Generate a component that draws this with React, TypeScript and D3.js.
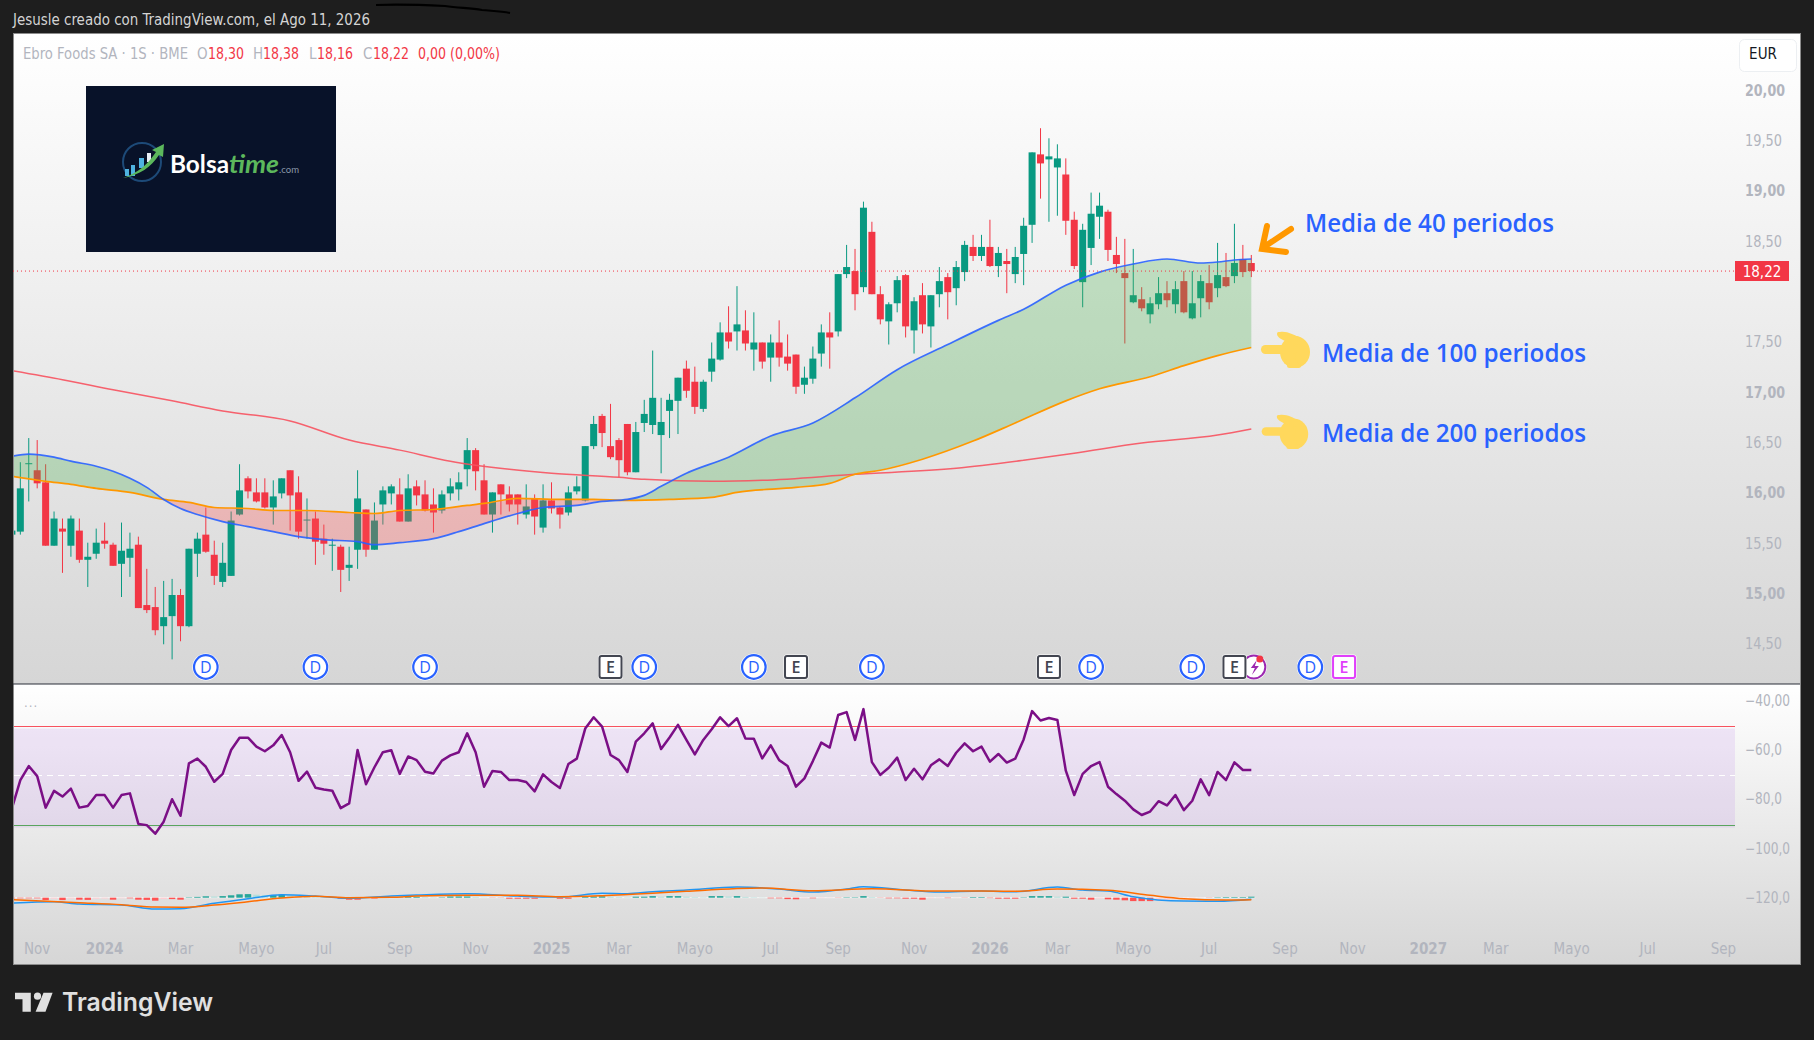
import React from "react";
import * as d3 from "d3";

const opens = [15.60,15.63,16.30,16.24,16.12,15.49,15.66,15.49,15.64,15.35,15.41,15.54,15.50,15.31,15.37,15.50,14.90,14.88,14.69,14.79,15.00,14.69,15.41,15.60,15.40,15.13,15.19,15.80,16.16,16.02,16.02,15.87,16.01,16.24,16.02,15.74,15.76,15.56,15.49,15.48,15.27,15.45,15.85,15.45,15.90,16.01,16.00,15.73,16.08,16.00,15.90,15.84,16.01,16.05,16.25,16.44,16.14,15.80,16.10,16.00,16.00,15.80,15.96,15.67,15.94,15.87,15.82,16.03,15.94,16.48,16.78,16.48,16.54,16.70,16.22,16.71,16.69,16.59,16.83,16.93,17.25,17.12,16.85,17.22,17.34,17.61,17.62,17.63,17.44,17.51,17.36,17.51,17.37,17.39,17.09,17.15,17.40,17.61,17.62,18.19,18.22,18.06,18.61,17.99,17.72,17.90,18.18,17.63,17.98,17.67,17.99,18.16,18.05,18.21,18.46,18.37,18.46,18.27,18.32,18.19,18.39,18.68,19.38,19.33,19.25,19.18,18.73,18.11,18.45,18.76,18.81,18.38,18.20,17.91,17.94,17.79,17.89,18.00,17.89,18.12,17.75,17.95,18.10,18.05,18.16,18.17,18.34,18.30];
const highs = [15.66,16.32,16.56,16.54,16.30,15.83,15.76,15.79,15.76,15.52,15.66,15.72,15.52,15.72,15.62,15.58,15.26,15.08,15.14,15.16,15.06,15.46,15.62,15.87,15.54,15.52,15.83,16.30,16.18,16.16,16.16,16.14,16.16,16.24,16.18,15.96,15.83,15.70,15.56,15.50,15.48,16.24,15.85,15.92,16.08,16.10,16.16,16.20,16.14,16.14,16.06,16.04,16.16,16.22,16.56,16.46,16.30,16.02,16.10,16.08,16.00,16.10,16.00,16.10,16.12,15.88,16.08,16.18,16.48,16.78,16.80,16.90,16.56,16.70,16.72,16.94,17.43,16.96,17.00,17.16,17.33,17.27,17.14,17.51,17.71,17.87,18.07,17.83,17.81,17.51,17.59,17.73,17.59,17.39,17.27,17.47,17.69,17.81,18.19,18.48,18.44,18.91,18.71,18.07,17.91,18.17,18.19,17.96,18.10,17.98,18.26,18.20,18.32,18.52,18.58,18.58,18.73,18.46,18.44,18.46,18.75,19.40,19.64,19.54,19.48,19.34,18.81,18.69,19.00,19.00,18.83,18.56,18.54,18.44,18.06,17.96,18.16,18.12,18.12,18.22,18.22,18.18,18.28,18.50,18.40,18.69,18.48,18.38];
const lows = [15.58,15.60,15.93,16.06,15.49,15.49,15.22,15.38,15.32,15.08,15.36,15.46,15.29,14.98,15.18,14.87,14.82,14.60,14.51,14.36,14.54,14.68,15.18,15.42,15.10,15.08,15.19,15.79,15.96,15.92,15.86,15.70,15.96,15.64,15.56,15.56,15.30,15.40,15.24,15.03,15.14,15.26,15.38,15.45,15.70,15.90,15.73,15.73,15.89,15.83,15.62,15.81,15.94,15.94,16.08,16.04,15.80,15.62,15.80,15.83,15.70,15.76,15.60,15.62,15.81,15.66,15.79,16.00,15.93,16.45,16.47,16.35,16.17,16.19,16.22,16.62,16.60,16.21,16.56,16.60,16.96,16.80,16.82,17.12,17.33,17.45,17.43,17.43,17.23,17.25,17.12,17.27,17.23,17.00,17.00,17.10,17.27,17.25,17.57,18.15,17.83,18.01,17.99,17.69,17.49,17.81,17.56,17.40,17.60,17.46,17.86,17.74,17.88,18.12,18.32,18.32,18.26,18.16,18.00,18.10,18.08,18.50,18.94,18.71,18.77,18.58,18.24,17.86,18.28,18.54,18.32,18.20,17.50,17.90,17.82,17.70,17.84,17.86,17.80,17.80,17.74,17.76,17.84,17.96,18.06,18.10,18.16,18.16];
const closes = [15.64,16.06,16.31,16.11,15.49,15.76,15.63,15.76,15.35,15.38,15.52,15.51,15.29,15.44,15.46,14.87,14.85,14.65,14.78,15.00,14.69,15.46,15.56,15.43,15.19,15.32,15.74,16.04,16.03,15.93,15.87,15.98,16.16,15.99,15.63,15.75,15.53,15.51,15.50,15.25,15.30,15.96,15.45,15.74,16.04,16.08,15.73,16.06,15.99,15.84,15.82,16.00,16.08,16.12,16.44,16.23,15.80,16.02,16.00,15.90,15.90,15.88,15.78,15.94,15.86,15.80,16.02,16.08,16.48,16.70,16.61,16.37,16.34,16.22,16.62,16.80,16.96,16.72,16.94,17.16,17.03,16.87,17.12,17.35,17.61,17.52,17.69,17.50,17.51,17.32,17.51,17.36,17.30,17.07,17.16,17.35,17.61,17.56,18.19,18.26,17.99,18.85,17.99,17.74,17.89,18.13,17.67,17.92,17.69,17.98,18.12,18.01,18.26,18.48,18.37,18.46,18.27,18.40,18.29,18.36,18.67,19.40,19.29,19.36,19.34,18.72,18.27,18.63,18.79,18.87,18.43,18.29,18.15,17.98,17.85,17.90,18.00,17.93,18.04,17.81,17.90,18.12,17.91,18.18,18.07,18.30,18.21,18.22];

const ma40Idx = [0,2,5,7,10,12,14,16,18,20,22,25,28,31,34,37,41,43,46,50,53,56,60,63,67,70,73,75,77,80,85,90,95,100,105,111,117,120,125,129,133,137,141,143,145,147];
const ma40 = [16.38,16.40,16.37,16.33,16.28,16.23,16.16,16.07,15.95,15.86,15.80,15.73,15.68,15.63,15.58,15.55,15.53,15.50,15.52,15.56,15.63,15.71,15.81,15.87,15.89,15.93,15.95,15.99,16.08,16.21,16.37,16.58,16.71,16.96,17.24,17.49,17.73,17.84,18.08,18.21,18.29,18.34,18.30,18.31,18.33,18.34];
const ma100Idx = [0,4,7,10,14,18,21,24,28,31,35,40,43,46,50,54,56,60,65,69,73,78,83,86,93,97,100,103,108,114,119,125,129,135,139,143,147];
const ma100 = [16.18,16.13,16.10,16.06,16.02,15.95,15.92,15.87,15.86,15.84,15.84,15.82,15.81,15.84,15.85,15.89,15.91,15.96,15.95,15.95,15.94,15.95,15.97,16.02,16.07,16.11,16.20,16.24,16.35,16.53,16.71,16.93,17.05,17.17,17.28,17.38,17.46];
const ma200Idx = [0,6,12,19,25,33,40,46,52,59,64,72,75,83,89,100,112,120,126,134,143,147];
const ma200 = [17.23,17.14,17.04,16.93,16.83,16.73,16.54,16.44,16.33,16.25,16.21,16.17,16.15,16.13,16.14,16.20,16.26,16.34,16.41,16.51,16.59,16.65];

const rsi = [-83.2,-71.7,-66.0,-70.1,-82.9,-76.1,-78.4,-75.2,-82.9,-82.2,-77.8,-77.8,-82.9,-77.8,-77.1,-89.5,-90.0,-93.5,-88.6,-79.5,-86.2,-64.9,-63.0,-66.3,-72.4,-69.2,-59.5,-54.5,-54.5,-58.1,-60.0,-57.6,-53.4,-60.4,-72.0,-68.3,-74.8,-75.5,-76.0,-83.1,-81.2,-59.5,-73.4,-66.5,-60.4,-59.6,-69.2,-62.1,-63.6,-68.3,-69.0,-63.8,-61.7,-60.4,-52.7,-60.4,-74.4,-68.0,-68.4,-71.7,-71.7,-72.5,-76.3,-69.4,-72.5,-74.9,-65.2,-63.0,-50.8,-46.2,-50.0,-61.5,-63.6,-68.4,-56.1,-52.7,-48.7,-59.1,-54.4,-49.3,-55.4,-61.3,-55.4,-51.1,-46.2,-49.8,-46.6,-54.8,-54.9,-62.9,-57.6,-63.6,-66.0,-74.4,-71.0,-64.0,-56.5,-58.5,-45.3,-44.1,-55.4,-42.9,-64.4,-69.6,-66.7,-62.6,-71.7,-67.1,-71.4,-65.7,-63.3,-66.0,-60.6,-56.8,-60.0,-58.1,-64.2,-61.1,-64.6,-63.0,-55.2,-43.7,-47.5,-46.5,-47.3,-67.9,-77.8,-69.2,-66.0,-64.4,-74.4,-77.4,-80.1,-83.6,-85.9,-84.5,-80.3,-82.0,-77.8,-83.9,-80.1,-71.4,-77.8,-68.4,-71.7,-64.5,-67.6,-67.6];

const macdIdx = [0,5,8,13,17,20,24,28,32,36,40,45,48,54,60,65,70,73,76,80,86,91,95,99,101,106,110,115,119,124,127,130,133,139,143,147];
const macd = [-0.27,-0.20,-0.32,-0.37,-0.57,-0.55,-0.28,-0.05,0.15,0.08,-0.03,0.08,0.13,0.20,0.08,0.03,0.22,0.20,0.30,0.38,0.53,0.43,0.28,0.43,0.55,0.38,0.28,0.33,0.30,0.53,0.38,0.33,0.05,-0.17,-0.18,-0.08];
const signalIdx = [0,8,13,17,20,24,28,32,36,40,45,48,54,60,65,70,76,80,89,95,102,110,115,119,124,130,135,139,144,147];
const signal = [-0.10,-0.25,-0.35,-0.47,-0.48,-0.37,-0.20,-0.02,0.07,0,0.02,0.08,0.12,0.12,0.05,0.10,0.22,0.32,0.48,0.35,0.45,0.33,0.33,0.32,0.43,0.37,0.12,-0.05,-0.12,-0.10];
const hist = [-0.03,-0.03,-0.03,-0.03,-0.12,-0.05,-0.12,-0.05,-0.10,-0.11,-0.05,-0.04,-0.10,-0.03,-0.03,-0.10,-0.11,-0.15,-0.07,-0.07,-0.10,0.02,0.04,0.07,0.06,0.08,0.12,0.17,0.18,0.15,0.13,0.13,0.15,0.12,0.08,0.05,0.03,0.02,-0.01,-0.05,-0.10,-0.10,-0.02,-0.04,-0.01,0.01,0.02,0.05,0.05,0.03,0.02,0.02,0.06,0.06,0.06,0.03,0.01,-0.01,-0.01,-0.05,-0.05,-0.05,-0.05,-0.02,-0.01,-0.05,-0.05,-0.01,0.04,0.06,0.07,0.05,0.03,0.02,0.05,0.05,0.08,0.05,0.08,0.08,0.05,0.03,0.02,0.08,0.08,0.06,0.08,0.04,0.02,0.01,-0.03,-0.03,-0.07,-0.08,-0.03,-0.03,-0.02,-0.01,-0.01,0.02,0.02,0.08,0.03,-0.01,-0.03,-0.03,-0.05,-0.05,-0.10,-0.03,-0.02,-0.02,-0.01,-0.01,0.03,0.03,-0.02,-0.05,-0.05,-0.05,0.02,0.08,0.08,0.08,0.05,0.05,-0.05,-0.05,-0.10,-0.04,-0.08,-0.10,-0.13,-0.17,-0.17,-0.17,-0.12,-0.10,-0.07,-0.05,-0.03,-0.01,-0.01,0.02,0.03,0.03,0.03,0.05];

const priceTicks = [20,19.5,19,18.5,17.5,17,16.5,16,15.5,15,14.5];
const lowerTicks = ["−40,00","−60,0","−80,0","−100,0","−120,0"];
const lowerTickValues = [-40,-60,-80,-100,-120];
const lowerTickWidths = [45,37,37,45,45];
const timeLabels = ["Nov","2024","Mar","Mayo","Jul","Sep","Nov","2025","Mar","Mayo","Jul","Sep","Nov","2026","Mar","Mayo","Jul","Sep","Nov","2027","Mar","Mayo","Jul","Sep"];
const timeIdx = [3,11,20,29,37,46,55,64,72,81,90,98,107,116,124,133,142,151,159,168,176,185,194,203];
const dividendIdx = [23,36,49,75,88,102,128,140,154];
const earningsIdx = [71,93,123,145];
const futureEarningsIdx = [158];
const splitIdx = 147.3;
const lastPrice = 18.22;
const legendLabels = ["O","H","L","C"];
const legendValues = ["18,30","18,38","18,16","18,22"];
const legendLabelX = [197,253,309,363];
const legendValueX = [208,263,317,373];

const FONT = "'DejaVu Sans Condensed','DejaVu Sans',sans-serif";
const UI = "'Open Sans','Noto Sans',sans-serif";
const W = 1814, H = 1040;
const L = 13, R = 1800, T = 34, SEP = 684, B = 964, AX = 1735;
const UP = "#089981", DN = "#f23645", AXC = "#b2b5be";

const x = d3.scaleLinear().domain([0, 147]).range([11.9, 1251.3]);
const y = d3.scaleLinear().domain([20, 14.5]).range([92, 645.3]);
const yL = d3.scaleLinear().domain([-40, -120]).range([702, 899]);
const yM = d3.scaleLinear().domain([-1, 1]).range([917.7, 877.7]);

const fm = (v: number) => d3.format(".2f")(v).replace(".", ",");
const lineFor = (xs: number[], ys: number[], sc: d3.ScaleLinear<number, number>) =>
  d3.line<number>().x((_, i) => x(xs[i])).y((d) => sc(d)).curve(d3.curveMonotoneX)(ys) as string;

const m40 = d3.scaleLinear().domain(ma40Idx).range(ma40);
const m100 = d3.scaleLinear().domain(ma100Idx).range(ma100);
const fillDomain = d3.range(0, 147.01, 0.25);
const greenArea = d3.area<number>().x((d) => x(d)).y0((d) => y(m100(d))).y1((d) => y(Math.max(m40(d), m100(d))))(fillDomain) as string;
const redArea = d3.area<number>().x((d) => x(d)).y0((d) => y(m100(d))).y1((d) => y(Math.min(m40(d), m100(d))))(fillDomain) as string;

function Hand({ cx, cy, s = 1 }: { cx: number; cy: number; s?: number }) {
  const c = "#ffd85c";
  return (
    <g transform={`translate(${cx},${cy}) scale(${s})`} fill={c}>
      <ellipse cx={1} cy={2} rx={15} ry={16} />
      <path d="M-14,-18 C-6,-19 -1,-15 5,-13 L5,-5 L-9,-9 C-13,-11 -17,-13 -17,-16 C-17,-18 -16,-18 -14,-18 Z" />
      <rect x={-33} y={-5} width={36} height={9} rx={4.5} />
      <rect x={-12} y={3} width={14} height={6} rx={3} />
      <rect x={-10} y={9} width={14} height={5} rx={2.5} />
      <rect x={-7} y={13} width={14} height={5} rx={2.5} />
    </g>
  );
}

function Logo() {
  return (
    <g>
      <rect x={86} y={86} width={250} height={166} fill="#081229" />
      <circle cx={142} cy={162} r={19} fill="none" stroke="#1d4a78" strokeWidth={2} />
      <rect x={125} y={169} width={4} height={7} fill="#4fb3e0" />
      <rect x={131} y={165} width={4} height={11} fill="#4fb3e0" />
      <rect x={139} y={158} width={5} height={10} fill="#4fb3e0" />
      <rect x={147} y={153} width={4} height={9} fill="#e8eef5" />
      <path d="M123,178 C138,173 148,164 156,152 L152,150 L164,144 L163,157 L159,155 C151,167 140,175 123,178 Z" fill="#5cb85c" />
      <text x={170} y={173} fontFamily="'Lato',sans-serif" fontWeight={700} fontSize={24} fill="#ffffff" textLength={59} lengthAdjust="spacingAndGlyphs">Bolsa</text>
      <text x={229} y={173} fontFamily="'Lato',sans-serif" fontWeight={700} fontStyle="italic" fontSize={24} fill="#5cb85c" textLength={50} lengthAdjust="spacingAndGlyphs">time</text>
      <text x={279} y={173} fontFamily="'Lato',sans-serif" fontSize={10} fill="#8a97a8" textLength={20} lengthAdjust="spacingAndGlyphs">.com</text>
    </g>
  );
}

function Marker({ i, kind }: { i: number; kind: "D" | "E" | "F" }) {
  const cx = x(i), cy = 667;
  if (kind === "D") {
    return (
      <g>
        <circle cx={cx} cy={cy} r={13.5} fill="#fff" />
        <circle cx={cx} cy={cy} r={11.8} fill="#fff" stroke="#2962ff" strokeWidth={2.2} />
        <text x={cx} y={cy + 6} textAnchor="middle" fontFamily={UI} fontSize={16} fill="#2962ff">D</text>
      </g>
    );
  }
  const col = kind === "E" ? "#434651" : "#e040fb";
  return (
    <g>
      <rect x={cx - 12.5} y={cy - 12.5} width={25} height={25} rx={3} fill="#fff" />
      <rect x={cx - 11} y={cy - 11} width={22} height={22} rx={2} fill="#fff" stroke={col} strokeWidth={2} />
      <text x={cx} y={cy + 6} textAnchor="middle" fontFamily={UI} fontWeight={600} fontSize={16} fill={col}>E</text>
    </g>
  );
}

export default function App() {
  return (
    <svg width={W} height={H} viewBox={`0 0 ${W} ${H}`} style={{ position: "absolute", left: 0, top: 0, display: "block" }}>
      <defs>
        <linearGradient id="g1" x1="0" y1="0" x2="0" y2="1">
          <stop offset="0" stopColor="#ffffff" />
          <stop offset="1" stopColor="#d6d6d6" />
        </linearGradient>
        <clipPath id="pane"><rect x={L + 1} y={T} width={R - L} height={B - T} /></clipPath>
      </defs>
      <rect width={W} height={H} fill="#1e1e1e" />
      <path d="M376,5 C400,4 425,5 445,6 C460,8 470,8 482,10 C492,11 500,11 510,13" fill="none" stroke="#000" strokeWidth={2.2} />
      <text x={13} y={25} fontFamily={FONT} fontSize={15.5} fill="#d4d4d4" textLength={357} lengthAdjust="spacingAndGlyphs">Jesusle creado con TradingView.com, el Ago 11, 2026</text>

      <rect x={L} y={T} width={R - L} height={SEP - T} fill="url(#g1)" />
      <rect x={L} y={SEP} width={R - L} height={B - SEP} fill="url(#g1)" />
      <rect x={L + 0.5} y={T - 0.5} width={R - L} height={B - T + 1} fill="none" stroke="#8c8c8c" />
      <line x1={L} x2={R} y1={SEP} y2={SEP} stroke="#2a2e39" strokeWidth={1.2} />

      <text x={23} y={59} fontFamily={FONT} fontSize={15} fill={AXC} textLength={165} lengthAdjust="spacingAndGlyphs">Ebro Foods SA · 1S · BME</text>
      {legendLabels.map((t, i) => (
        <g key={t} fontFamily={FONT} fontSize={15}>
          <text x={legendLabelX[i]} y={59} fill={AXC}>{t}</text>
          <text x={legendValueX[i]} y={59} fill={DN} textLength={36} lengthAdjust="spacingAndGlyphs">{legendValues[i]}</text>
        </g>
      ))}
      <text x={418} y={59} fontFamily={FONT} fontSize={15} fill={DN} textLength={82} lengthAdjust="spacingAndGlyphs">0,00 (0,00%)</text>

      <Logo />

      <g clipPath="url(#pane)">
        {opens.map((o, i) => {
          const c = closes[i], up = c >= o, col = up ? UP : DN;
          const top = y(Math.max(o, c)), bot = y(Math.min(o, c));
          return (
            <g key={i}>
              <line x1={x(i)} x2={x(i)} y1={y(highs[i])} y2={y(lows[i])} stroke={col} strokeWidth={1} />
              <rect x={x(i) - 3.5} y={top} width={7} height={Math.max(bot - top, 1)} fill={col} />
            </g>
          );
        })}
        <path d={greenArea} fill="rgba(76,175,80,0.3)" />
        <path d={redArea} fill="rgba(255,82,82,0.3)" />
        <path d={lineFor(ma200Idx, ma200, y)} fill="none" stroke="#f7525f" strokeWidth={1.5} strokeOpacity={0.9} />
        <path d={lineFor(ma100Idx, ma100, y)} fill="none" stroke="#ff9800" strokeWidth={1.7} />
        <path d={lineFor(ma40Idx, ma40, y)} fill="none" stroke="#2962ff" strokeWidth={1.7} strokeOpacity={0.9} />
      </g>
      <line x1={L} x2={AX} y1={y(lastPrice)} y2={y(lastPrice)} stroke={DN} strokeWidth={1} strokeDasharray="1 3" />

      {dividendIdx.map((i) => <Marker key={i} i={i} kind="D" />)}
      <g>
        <circle cx={x(splitIdx)} cy={667} r={13} fill="#fff" />
        <circle cx={x(splitIdx)} cy={667} r={11.5} fill="#fff" stroke="#9c27b0" strokeWidth={2} />
        <path d={`M${x(splitIdx) + 3},660 l-6,8 h4 l-3,7 l7,-9 h-4 z`} fill="#9c27b0" />
        <circle cx={x(splitIdx) + 6} cy={659} r={3.5} fill={DN} />
      </g>
      {earningsIdx.map((i) => <Marker key={i} i={i} kind="E" />)}
      {futureEarningsIdx.map((i) => <Marker key={i} i={i} kind="F" />)}

      {/* Annotations */}
      <path d="M1291,229 L1264,247 M1267,226 L1262,249 L1286,252" fill="none" stroke="#ff9800" strokeWidth={6} strokeLinecap="round" strokeLinejoin="miter" />
      <Hand cx={1294} cy={350} />
      <Hand cx={1293} cy={432} s={0.95} />
      {[["Media de 40 periodos", 1305, 222.7, 249], ["Media de 100 periodos", 1322, 353, 264], ["Media de 200 periodos", 1322, 432.7, 264]].map(([t, px, py, w]) => (
        <text key={t as string} x={px as number} y={(py as number) + 9} fontFamily={UI} fontWeight={600} fontSize={25} fill="#2962ff" textLength={w as number} lengthAdjust="spacingAndGlyphs">{t as string}</text>
      ))}

      {/* Price axis */}
      {priceTicks.map((p) => (
        <text key={p} x={1745} y={y(p) + 3.8} fontFamily={FONT} fontSize={15} fontWeight={p % 1 === 0 ? 600 : 400} fill={AXC} textLength={p % 1 === 0 ? 40 : 37} lengthAdjust="spacingAndGlyphs">{fm(p)}</text>
      ))}
      <rect x={AX} y={261} width={54} height={20} fill={DN} />
      <text x={1762} y={276.5} textAnchor="middle" fontFamily={FONT} fontSize={15} fontWeight={500} fill="#fff">{fm(lastPrice)}</text>
      <rect x={1739.5} y={39.5} width={57} height={32} rx={5} fill="#fff" stroke="#eceff2" />
      <text x={1763} y={59} textAnchor="middle" fontFamily={FONT} fontSize={15} fill="#131722">EUR</text>

      {/* Lower pane */}
      <text x={24} y={711} fontFamily={FONT} fontSize={13} letterSpacing={1} fill={AXC}>···</text>
      <rect x={L + 1} y={yL(-50.8)} width={AX - L - 1} height={yL(-91) - yL(-50.8)} fill="rgba(155,60,225,0.11)" />
      <line x1={L + 1} x2={AX} y1={726.5} y2={726.5} stroke="#f7525f" strokeWidth={1.2} />
      <line x1={L + 1} x2={AX} y1={825.5} y2={825.5} stroke="#5aa55e" strokeWidth={1.2} />
      <line x1={L + 1} x2={AX} y1={775.5} y2={775.5} stroke="#fff" strokeWidth={1} strokeDasharray="6 5" />

      <g clipPath="url(#pane)">
        <path d={d3.line<number>().x((_, i) => x(i)).y((d) => yL(d))(rsi) as string} fill="none" stroke="#7b0f86" strokeWidth={2.5} strokeLinejoin="round" />
        <line x1={L + 1} x2={x(147) + 4} y1={yM(0)} y2={yM(0)} stroke="#fff" strokeOpacity={0.7} />
        {hist.map((v, i) => {
          const prev = i > 0 ? hist[i - 1] : 0;
          const col = v >= 0 ? (v >= prev ? "#26a69a" : "#b2dfdb") : (v <= prev ? "#ff5252" : "#ffcdd2");
          return <rect key={i} x={x(i) - 3.2} width={6.4} y={Math.min(yM(v), yM(0))} height={Math.abs(yM(v) - yM(0))} fill={col} />;
        })}
        <path d={lineFor(macdIdx, macd, yM)} fill="none" stroke="#2196f3" strokeWidth={1.5} />
        <path d={lineFor(signalIdx, signal, yM)} fill="none" stroke="#ff6d00" strokeWidth={1.5} />
      </g>
      {lowerTicks.map((t, i) => (
        <text key={t} x={1745} y={yL(lowerTickValues[i]) + 3.8} fontFamily={FONT} fontSize={15} fill={AXC} textLength={lowerTickWidths[i]} lengthAdjust="spacingAndGlyphs">{t}</text>
      ))}

      {/* Time axis */}
      {timeLabels.map((t, i) => (
        <text key={i} x={x(timeIdx[i])} y={953.5} textAnchor="middle" fontFamily={FONT} fontSize={15} fontWeight={/^\d/.test(t) ? 700 : 400} fill={AXC}>{t}</text>
      ))}

      {/* Footer logo */}
      <path d="M15,992.7 L30.8,992.7 L30.8,1011.7 L22.5,1011.7 L22.5,999.3 L15,999.3 Z" fill="#e0e0e0" />
      <circle cx={37.5} cy={996.2} r={3.6} fill="#e0e0e0" />
      <path d="M52.6,992.7 L43.5,992.7 L35.6,1011.7 L45.5,1011.7 Z" fill="#e0e0e0" />
      <text x={62} y={1011} fontFamily="'Inter','Noto Sans',sans-serif" fontWeight={600} fontSize={25} fill="#e0e0e0" textLength={151} lengthAdjust="spacingAndGlyphs">TradingView</text>
    </svg>
  );
}
